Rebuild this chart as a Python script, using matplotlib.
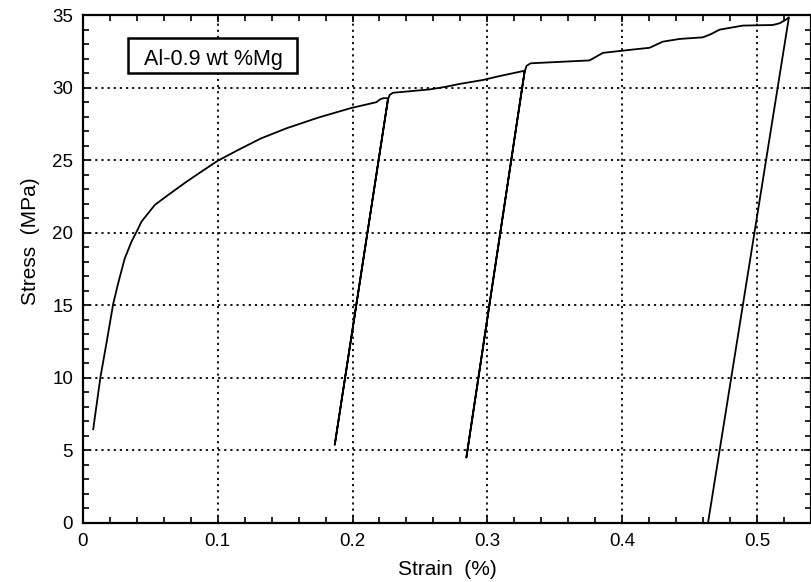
import numpy as np
from matplotlib import pyplot as plt
from matplotlib.ticker import MultipleLocator
from matplotlib.patches import Rectangle

plt.rcParams['font.family'] = ['Liberation Sans', 'DejaVu Sans']

# first loading curve (strain %, stress MPa)
load1_x = [0.0077, 0.0131, 0.0175, 0.0225, 0.0262, 0.0311, 0.0361, 0.0403, 0.0435,
           0.0534, 0.0632, 0.0769, 0.0885, 0.0998, 0.115, 0.132, 0.151, 0.175,
           0.199, 0.2177, 0.2205, 0.223, 0.2264]
load1_y = [6.46, 10.08, 12.38, 15.09, 16.52, 18.24, 19.39, 20.15, 20.77,
           21.92, 22.6, 23.52, 24.25, 24.95, 25.7, 26.5, 27.2, 27.95,
           28.6, 29.0, 29.2, 29.28, 29.27]

# unload / reload 1
cycle1_x = [0.1868, 0.2262, 0.2275, 0.2300, 0.2572, 0.2696, 0.2795, 0.2967, 0.309, 0.3277]
cycle1_y = [5.38, 29.15, 29.5, 29.65, 29.88, 30.07, 30.26, 30.53, 30.8, 31.17]

# unload / reload 2
cycle2_x = [0.2844, 0.3275, 0.3290, 0.3320, 0.3758, 0.3857, 0.408, 0.4203, 0.430, 0.4426,
            0.4598, 0.466, 0.4722, 0.4895, 0.5117, 0.5167, 0.5211, 0.5236]
cycle2_y = [4.5, 31.05, 31.5, 31.68, 31.88, 32.4, 32.63, 32.75, 33.17, 33.36,
            33.47, 33.7, 34.0, 34.28, 34.32, 34.44, 34.67, 34.85]

# final unloading
unload3_x = [0.4636]
unload3_y = [0.0]

strain = load1_x + cycle1_x + cycle2_x + unload3_x
stress = load1_y + cycle1_y + cycle2_y + unload3_y

fig = plt.figure(figsize=(8.12, 5.82), dpi=100)
ax = fig.add_axes([0.102, 0.1014, 0.8968, 0.8726])
ax.plot(strain, stress, color='black', lw=1.3)

ax.set_xlim(0, 0.54)
ax.set_ylim(0, 35)
ax.xaxis.set_major_locator(MultipleLocator(0.1))
ax.xaxis.set_minor_locator(MultipleLocator(0.02))
ax.yaxis.set_major_locator(MultipleLocator(5))
ax.yaxis.set_minor_locator(MultipleLocator(1))
ax.set_xticks([0, 0.1, 0.2, 0.3, 0.4, 0.5])
ax.set_xticklabels(['0', '0.1', '0.2', '0.3', '0.4', '0.5'])
ax.tick_params(which='both', direction='in', top=True, right=True, width=1.2)
ax.tick_params(axis='x', labelsize=13.5, pad=7.5)
ax.tick_params(axis='y', labelsize=13.5, pad=7)
ax.tick_params(which='major', length=5)
ax.tick_params(which='minor', length=4)
ax.grid(True, which='major', color='black', linestyle=(0, (1.2, 2.2)), lw=1.3)
for s in ax.spines.values():
    s.set_linewidth(1.6)

ax.set_xlabel('Strain  (%)', fontsize=15)
ax.set_ylabel('Stress  (MPa)', fontsize=15)
ax.xaxis.set_label_coords(0.5, -0.072)
ax.yaxis.set_label_coords(-0.059, 0.555)

# label box
ax.add_patch(Rectangle((0.062, 0.886), 0.232, 0.069, transform=ax.transAxes,
                       fc='white', ec='black', lw=1.8, zorder=5))
ax.text(0.179, 0.9016, 'Al-0.9 wt %Mg', transform=ax.transAxes, fontsize=15.5,
        ha='center', va='baseline', zorder=6)

plt.savefig('out.png', dpi=100)
